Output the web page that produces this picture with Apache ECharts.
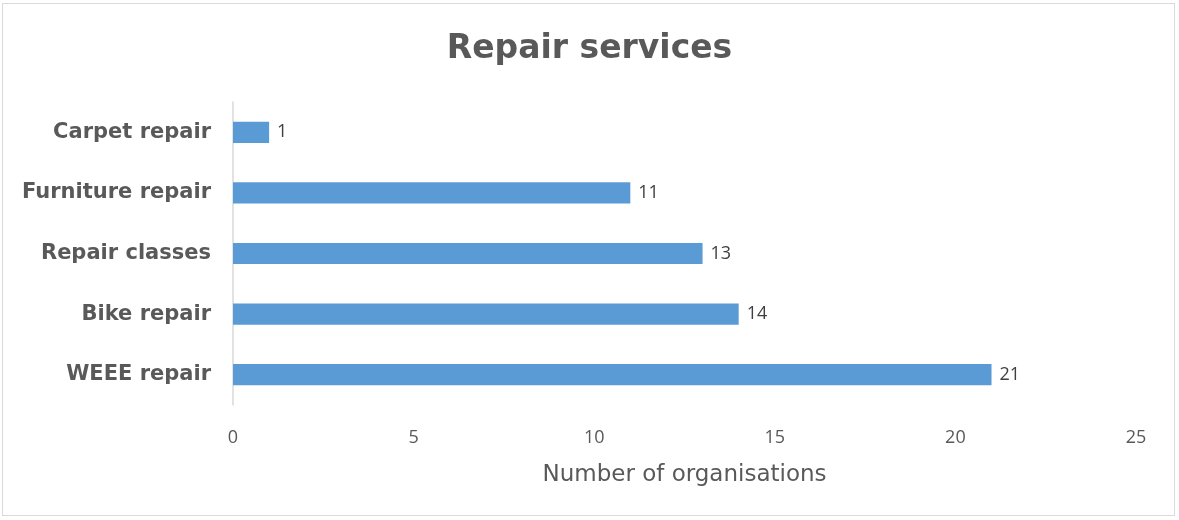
<!DOCTYPE html>
<html>
<head>
<meta charset="utf-8">
<script src="https://cdn.jsdelivr.net/npm/echarts@6/dist/echarts.min.js"></script>
<style>
  html, body { margin: 0; padding: 0; background: #fff; }
  #frame { position: absolute; left: 2px; top: 3px; width: 1173px; height: 513px; border: 1px solid #d9d9d9; box-sizing: border-box; }
  #chart { width: 1179px; height: 520px; }
</style>
</head>
<body>
<div id="frame"></div>
<div id="chart"></div>
<script>
// Repair services offered, counted by number of organisations
const categories = ['WEEE repair', 'Bike repair', 'Repair classes', 'Furniture repair', 'Carpet repair'];
const organisations = [21, 14, 13, 11, 1];
const xTicks = [0, 5, 10, 15, 20, 25];

const chart = echarts.init(document.getElementById('chart'), null, { renderer: 'canvas' });
chart.setOption({
  animation: false,
  title: {
    text: 'Repair services',
    left: 'center',
    top: 28,
    textStyle: { fontFamily: 'DejaVu Sans', fontWeight: 'bold', fontSize: 33, color: '#595959' }
  },
  grid: { left: 233, right: 43, top: 102, bottom: 115, containLabel: false },
  xAxis: {
    type: 'value',
    min: xTicks[0],
    max: xTicks[xTicks.length - 1],
    interval: 5,
    name: 'Number of organisations',
    nameLocation: 'middle',
    nameGap: 59,
    nameTextStyle: { fontFamily: 'DejaVu Sans', fontSize: 23, color: '#595959' },
    axisLine: { show: false },
    axisTick: { show: false },
    splitLine: { show: false },
    axisLabel: { margin: 24, fontFamily: 'Open Sans', fontSize: 18, color: '#595959' }
  },
  yAxis: {
    type: 'category',
    data: categories,
    axisLine: { show: true, lineStyle: { color: '#d9d9d9', width: 1.5 } },
    axisTick: { show: false },
    axisLabel: { margin: 22, fontFamily: 'DejaVu Sans', fontWeight: 'bold', fontSize: 21, color: '#595959' }
  },
  series: [{
    type: 'bar',
    data: organisations,
    barWidth: '35%',
    itemStyle: { color: '#5B9BD5' },
    label: {
      show: true,
      position: 'right',
      distance: 8,
      fontFamily: 'Open Sans',
      fontSize: 18,
      color: '#404040'
    }
  }]
});
</script>
</body>
</html>
